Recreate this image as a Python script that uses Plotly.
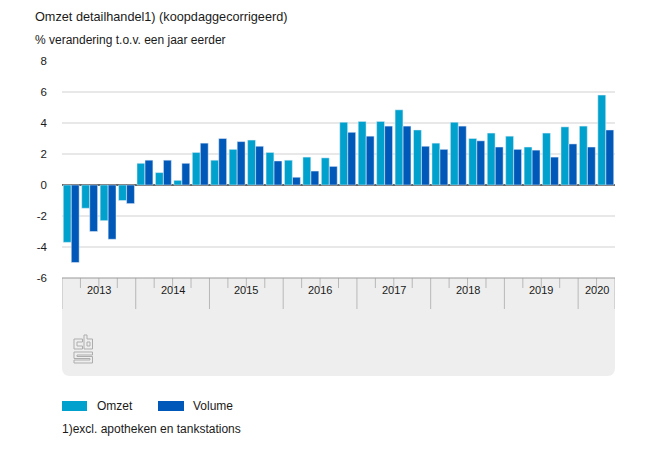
import plotly.graph_objects as go

quarters = [f"{y} K{q}" for y in range(2013, 2020) for q in range(1, 5)] + ["2020 K1", "2020 K2"]
omzet = [-3.7, -1.5, -2.3, -1.0,
         1.4, 0.8, 0.3, 2.1,
         1.6, 2.3, 2.9, 2.1,
         1.6, 1.8, 1.75, 4.05,
         4.1, 4.1, 4.85, 3.55,
         2.7, 4.05, 3.0, 3.35,
         3.15, 2.45, 3.35, 3.75,
         3.8, 5.8]
volume = [-5.0, -3.0, -3.5, -1.2,
          1.6, 1.6, 1.4, 2.7,
          3.0, 2.8, 2.5, 1.55,
          0.5, 0.9, 1.2, 3.4,
          3.15, 3.8, 3.8, 2.5,
          2.3, 3.8, 2.85, 2.45,
          2.3, 2.25, 1.8, 2.65,
          2.45, 3.55]
years = ["2013", "2014", "2015", "2016", "2017", "2018", "2019", "2020"]
quarters_per_year = [4, 4, 4, 4, 4, 4, 4, 2]
y_ticks = [-6, -4, -2, 0, 2, 4, 6, 8]
y_tick_labels = ["-6", "-4", "-2", "0", "2", "4", "6", "8"]
title = "Omzet detailhandel1) (koopdaggecorrigeerd)"
subtitle = "% verandering t.o.v. een jaar eerder"
footnote = "1)excl. apotheken en tankstations"

C_OMZET = "#00a1cd"
C_VOLUME = "#0058b8"
FONT = "Liberation Sans"
TXT = "#1a1a1a"
# the page has an 8 px margin; reference coordinates are converted for it
OFF = 8
W, H = 642, 442
L, R, T, B = 62 - OFF, 35, 61 - OFF, 172
x = list(range(len(quarters)))

fig = go.Figure()
fig.add_bar(x=x, y=omzet, name="Omzet", marker_color=C_OMZET, hovertext=quarters)
fig.add_bar(x=x, y=volume, name="Volume", marker_color=C_VOLUME, hovertext=quarters)


def px(xp, yp):
    return (xp - OFF - L) / (W - L - R), 1 - (yp - OFF - T) / (H - T - B)


def py(yp):
    return px(OFF, yp)[1]


def P(a, b):
    u, v = px(a, b)
    return f"{u:.5f},{v:.5f}"


shapes = []
# grey panel below axis, rounded at the bottom
x0, x1, y0, y1, r = 62, 615, 278, 376, 8
shapes.append(dict(type="path", xref="paper", yref="paper", layer="below", line_width=0, fillcolor="#eeeeee",
    path=f"M{P(x0,y0)} L{P(x1,y0)} L{P(x1,y1-r)} Q{P(x1,y1)} {P(x1-r,y1)} L{P(x0+r,y1)} Q{P(x0,y1)} {P(x0,y1-r)} Z"))

# year and quarter separators
start = -0.5
annotations = []
for yr, n in zip(years, quarters_per_year):
    shapes.append(dict(type="line", xref="x", yref="paper", x0=start, x1=start,
                       y0=py(309), y1=py(278), line=dict(color="#b8b8b8", width=1)))
    for k in range(1, n):
        shapes.append(dict(type="line", xref="x", yref="paper", x0=start + k, x1=start + k,
                           y0=py(288), y1=py(278), line=dict(color="#b8b8b8", width=1)))
    annotations.append(dict(text=yr, x=start + n / 2, xref="x", y=py(298), yref="paper",
                            showarrow=False, font=dict(size=11, color=TXT)))
    start += n
shapes.append(dict(type="line", xref="x", yref="paper", x0=start, x1=start,
                   y0=py(309), y1=py(278), line=dict(color="#b8b8b8", width=1)))
shapes.append(dict(type="line", xref="paper", yref="paper", x0=0, x1=1,
                   y0=py(278), y1=py(278), line=dict(color="#999999", width=1)))

# cbs mark, outlined
logo = [
    [(74, 339), (82.5, 339), (82.5, 342), (77, 342), (77, 346), (82.5, 346), (82.5, 349), (74, 349)],
    [(84, 335), (87, 335), (87, 339), (92.5, 339), (92.5, 349), (84, 349)],
    [(87, 342), (90, 342), (90, 346), (87, 346)],
    [(74, 352), (92.5, 352), (92.5, 355), (77, 355), (77, 356.5), (92.5, 356.5), (92.5, 363),
     (74, 363), (74, 360), (90, 360), (90, 358.5), (74, 358.5)],
]
for poly in logo:
    path = "M" + " L".join(P(a, b) for a, b in poly) + " Z"
    shapes.append(dict(type="path", xref="paper", yref="paper", path=path, line=dict(color="#adadad", width=1)))

# legend swatches
for xa, wd, col in ((62, 25, C_OMZET), (158, 26, C_VOLUME)):
    u0, v0 = px(xa, 401)
    u1, v1 = px(xa + wd, 411)
    shapes.append(dict(type="rect", xref="paper", yref="paper", x0=u0, x1=u1, y0=v1, y1=v0,
                       fillcolor=col, line_width=0))


def text(t, xp, yp, size=12):
    u, v = px(xp - 2, yp)
    annotations.append(dict(text=t, x=u, y=v, xref="paper", yref="paper", xanchor="left", yanchor="middle",
                            showarrow=False, font=dict(size=size, color=TXT)))


text(title, 35, 17, 12.7)
text(subtitle, 35, 40, 12)
text("Omzet", 97, 406, 12)
text("Volume", 193, 406, 12)
text(footnote, 62, 429, 12)

fig.update_layout(
    width=W, height=H, margin=dict(l=L, r=R, t=T, b=B), paper_bgcolor="white", plot_bgcolor="white",
    barmode="group", bargap=0.13, bargroupgap=0.02, showlegend=False,
    font=dict(family=FONT, size=11.5, color=TXT),
    shapes=shapes, annotations=annotations,
    xaxis=dict(range=[-0.5, len(quarters) - 0.5], showticklabels=False, showgrid=False, zeroline=False, ticks=""),
    yaxis=dict(range=[-6, 8], tickvals=y_ticks, ticktext=y_tick_labels, showgrid=True, gridcolor="#e8e8e8",
               gridwidth=1.5, zeroline=True, zerolinecolor="#666666", zerolinewidth=2, ticks="", ticklen=0,
               ticklabelstandoff=14, tickfont=dict(size=11.5, color=TXT)),
)
fig.write_html("out.html")
